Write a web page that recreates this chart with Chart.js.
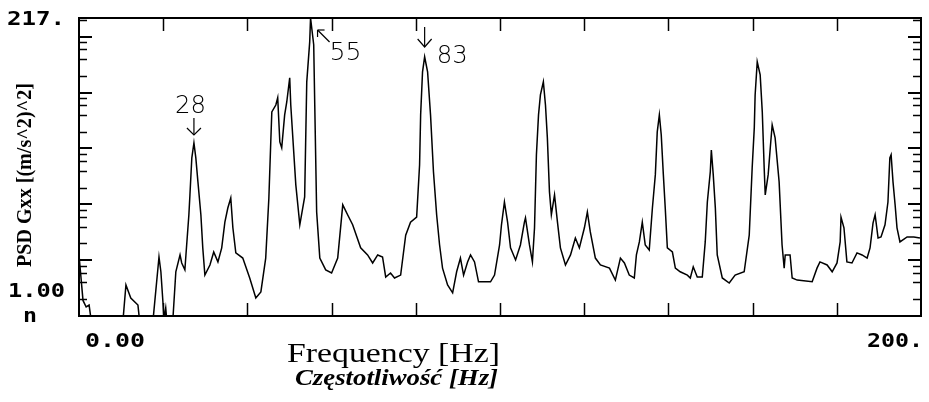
<!DOCTYPE html>
<html>
<head>
<meta charset="utf-8">
<script src="https://cdn.jsdelivr.net/npm/chart.js@4.4.1/dist/chart.umd.min.js"></script>
<style>
html,body{margin:0;padding:0;background:#fff;}
canvas{display:block;}
</style>
</head>
<body>
<canvas id="c" width="929" height="402"></canvas>
<script>
// Frequency [Hz]
const freq = [
  0, 0.95, 1.7, 2.4, 3.3, 10.2, 11.15, 12.3, 14.0, 14.7,
  17.3, 19.0, 19.45, 20.2, 20.6, 21.1, 22.1, 23.0, 24.0, 24.4,
  25.15, 25.4, 26.1, 26.35, 26.8, 27.3, 27.75, 28.25, 28.95, 29.4,
  29.9, 31.1, 32.0, 33.0, 33.9, 34.65, 35.35, 36.05, 36.55, 37.25,
  38.9, 40.55, 42.0, 43.2, 44.35, 45.1, 45.55, 45.8, 46.75, 47.2,
  47.7, 48.15, 48.85, 49.35, 50.05, 50.3, 51.5, 52.45, 53.6, 54.1,
  54.8, 55.0, 55.75, 56.0, 56.45, 57.2, 58.6, 60.0, 61.45, 62.65,
  63.8, 65.0, 66.9, 68.55, 69.75, 70.95, 72.1, 72.85, 74.0, 74.95,
  76.4, 77.6, 78.75, 80.2, 80.9, 81.15, 81.6, 82.1, 82.8, 83.5,
  84.2, 84.95, 85.65, 86.35, 87.55, 88.75, 89.7, 90.6, 91.35, 92.3,
  93.0, 93.95, 94.9, 97.75, 98.7, 99.9, 100.35, 101.05, 101.8, 102.5,
  103.7, 104.85, 105.8, 106.05, 107.0, 107.7, 108.2, 108.65, 109.15, 109.6,
  110.3, 110.8, 111.25, 111.75, 112.2, 112.95, 113.65, 114.35, 115.55, 116.75,
  117.9, 118.85, 120.05, 120.75, 121.45, 122.65, 123.85, 126.0, 127.4, 128.6,
  129.55, 130.7, 131.9, 132.4, 133.1, 133.8, 134.5, 135.45, 136.2, 136.9,
  137.35, 137.85, 138.3, 138.8, 139.25, 139.75, 140.95, 141.65, 142.8, 144.5,
  145.2, 145.9, 146.85, 148.05, 148.75, 149.25, 149.95, 150.2, 150.65, 151.15,
  151.6, 152.8, 154.45, 155.85, 158.0, 159.2, 159.9, 160.4, 160.6, 161.1,
  161.8, 162.3, 162.75, 163.0, 163.7, 164.2, 164.65, 165.35, 166.3, 167.0,
  167.5, 167.75, 168.9, 169.4, 170.6, 174.15, 175.3, 176.0, 177.7, 178.9,
  180.05, 180.8, 181.0, 181.7, 182.4, 183.6, 184.8, 186.0, 187.2, 187.9,
  188.6, 189.1, 189.8, 190.5, 191.45, 192.15, 192.6, 192.9, 193.35, 193.85,
  194.3, 195.0, 196.7, 198.3, 199.75
];
// PSD Gxx [(m/s^2)^2]
const psd = [
  0.0124, 0.0019, 0.00145, 0.00157, 0.0005, 0.0005, 0.0036, 0.0021, 0.00157, 0.0005,
  0.0005, 0.0114, 0.0062, 0.0009, 0.00139, 0.0005, 0.0005, 0.0062, 0.0124, 0.0089,
  0.0067, 0.0124, 0.065, 0.147, 0.68, 1.26, 0.68, 0.252, 0.065, 0.0166,
  0.0054, 0.0082, 0.014, 0.0093, 0.0166, 0.048, 0.086, 0.13, 0.038, 0.0135,
  0.0109, 0.0048, 0.0021, 0.0027, 0.0109, 0.13, 1.31, 4.5, 6.0, 8.1,
  1.31, 1.03, 4.0, 6.8, 18.4, 6.0, 0.223, 0.043, 0.136, 15.6,
  81, 217, 72, 6.0, 0.073, 0.0109, 0.0067, 0.0059, 0.0109, 0.098,
  0.065, 0.043, 0.0166, 0.0124, 0.0089, 0.0124, 0.0114, 0.005, 0.0059, 0.0048,
  0.0054, 0.028, 0.048, 0.059, 0.51, 4.0, 23.6, 43.8, 23.6, 4.0,
  0.38, 0.065, 0.0187, 0.0072, 0.0036, 0.0026, 0.0062, 0.0109, 0.0054, 0.0093,
  0.0124, 0.0093, 0.0041, 0.0041, 0.0054, 0.0187, 0.043, 0.11, 0.048, 0.0166,
  0.0101, 0.0187, 0.048, 0.057, 0.0187, 0.0093, 0.038, 0.77, 4.0, 9.1,
  15.6, 6.0, 1.55, 0.167, 0.065, 0.147, 0.048, 0.0166, 0.0082, 0.0124,
  0.025, 0.0166, 0.038, 0.073, 0.032, 0.0109, 0.0082, 0.0072, 0.0044, 0.0109,
  0.0089, 0.0054, 0.0048, 0.0124, 0.0212, 0.048, 0.0187, 0.0152, 0.086, 0.34,
  1.98, 4.0, 1.75, 0.34, 0.086, 0.0166, 0.014, 0.0072, 0.0062, 0.0054,
  0.0048, 0.0076, 0.005, 0.005, 0.0212, 0.11, 0.38, 0.94, 0.34, 0.086,
  0.0124, 0.0048, 0.0039, 0.0054, 0.0062, 0.028, 0.45, 2.34, 9.1, 35.6,
  20.8, 4.5, 0.45, 0.147, 0.34, 1.03, 2.65, 1.55, 0.252, 0.0187,
  0.0072, 0.0124, 0.0124, 0.0048, 0.0044, 0.0041, 0.0072, 0.0093, 0.0082, 0.0062,
  0.0089, 0.0212, 0.059, 0.038, 0.0093, 0.0089, 0.0135, 0.0124, 0.0109, 0.0166,
  0.046, 0.065, 0.025, 0.026, 0.043, 0.11, 0.68, 0.77, 0.252, 0.098,
  0.038, 0.0212, 0.026, 0.026, 0.025
];

// Axes
const xMin = 0, xMax = 200;
const yMin = 0.001, yMax = 217;
const xTickValues = [20, 40, 60, 80, 100, 120, 140, 160, 180];
const yMajorTicks = [0.01, 0.1, 1, 10, 100];
const yMinorTicks = [0.002, 0.004, 0.006, 0.008, 0.02, 0.04, 0.06, 0.08, 0.2, 0.4, 0.6, 0.8,
                     2, 4, 6, 8, 20, 40, 60, 80, 200];
const yTopLabel = '217.';
const yBottomLabel = ['1.00', 'n'];
const xLeftLabel = '0.00';
const xRightLabel = '200.';
const xTitle = 'Frequency [Hz]';
const xSubTitle = 'Częstotliwość [Hz]';
const yTitle = 'PSD Gxx [(m/s^2)^2]';
// Peak annotations
const peakLabels = ['28', '55', '83'];
const peakFreqs = [27.3, 55.0, 82.1];

function fitText(ctx, str, font, left, baseline, width) {
  ctx.font = font;
  ctx.textAlign = 'left';
  ctx.textBaseline = 'alphabetic';
  const w = ctx.measureText(str).width;
  ctx.save();
  ctx.translate(left, baseline);
  ctx.scale(width / w, 1);
  ctx.fillText(str, 0, 0);
  ctx.restore();
}
function seg(ctx, x1, y1, x2, y2) {
  ctx.beginPath(); ctx.moveTo(x1, y1); ctx.lineTo(x2, y2); ctx.stroke();
}

const overlay = {
  id: 'overlay',
  afterDraw(chart) {
    const ctx = chart.ctx;
    const a = chart.chartArea;
    const xs = chart.scales.x, ys = chart.scales.y;
    ctx.save();
    ctx.strokeStyle = '#000';
    ctx.fillStyle = '#000';
    // frame
    ctx.lineWidth = 2;
    ctx.strokeRect(a.left, a.top, a.right - a.left, a.bottom - a.top);
    // x ticks (inward, top and bottom)
    ctx.lineWidth = 1.5;
    xTickValues.forEach(v => {
      const px = Math.round(xs.getPixelForValue(v)) + 0.5;
      seg(ctx, px, a.bottom, px, a.bottom - 13);
      seg(ctx, px, a.top, px, a.top + 13);
    });
    // y ticks (inward, left and right)
    ctx.lineWidth = 2;
    yMajorTicks.forEach(v => {
      const py = Math.round(ys.getPixelForValue(v));
      seg(ctx, a.left, py, a.left + 13, py);
      seg(ctx, a.right, py, a.right - 13, py);
    });
    ctx.lineWidth = 1.5;
    yMinorTicks.forEach(v => {
      const py = Math.round(ys.getPixelForValue(v)) + 0.5;
      seg(ctx, a.left, py, a.left + 8, py);
      seg(ctx, a.right, py, a.right - 8, py);
    });
    // tick labels
    const mono = "bold 20px 'DejaVu Sans Mono'";
    fitText(ctx, yTopLabel, mono, 7, 25, 58);
    fitText(ctx, yBottomLabel[0], mono, 8, 297, 57);
    fitText(ctx, yBottomLabel[1], mono, 23, 322, 14);
    fitText(ctx, xLeftLabel, mono, 85, 347, 60);
    fitText(ctx, xRightLabel, mono, 867, 347, 56);
    // axis titles
    fitText(ctx, xTitle, "28px 'Liberation Serif'", 287, 362, 213);
    fitText(ctx, xSubTitle, "italic bold 23px 'Liberation Serif'", 295, 385, 203);
    ctx.save();
    ctx.font = "bold 19px 'Liberation Serif'";
    const tw = ctx.measureText(yTitle).width;
    ctx.translate(26, 175);
    ctx.rotate(-Math.PI / 2);
    ctx.scale(184 / tw, 1.1);
    ctx.textAlign = 'center';
    ctx.textBaseline = 'middle';
    ctx.fillText(yTitle, 0, 0);
    ctx.restore();
    // peak annotations
    const af = "200 24px 'DejaVu Sans'";
    ctx.lineWidth = 1.2;
    // 28
    let px = xs.getPixelForValue(peakFreqs[0]);
    fitText(ctx, peakLabels[0], af, px - 19, 113, 31);
    seg(ctx, px, 118, px, 135);
    ctx.beginPath(); ctx.moveTo(px - 7, 128); ctx.lineTo(px, 135); ctx.lineTo(px + 7, 128); ctx.stroke();
    // 55
    px = xs.getPixelForValue(peakFreqs[1]);
    fitText(ctx, peakLabels[1], af, px + 19, 60, 32);
    seg(ctx, px + 7, 30, px + 19, 42);
    seg(ctx, px + 7, 30, px + 7, 37);
    seg(ctx, px + 7, 30, px + 14, 30);
    // 83
    px = xs.getPixelForValue(peakFreqs[2]);
    fitText(ctx, peakLabels[2], af, px + 12, 63, 31);
    seg(ctx, px, 27, px, 47);
    ctx.beginPath(); ctx.moveTo(px - 7, 39); ctx.lineTo(px, 47); ctx.lineTo(px + 7, 39); ctx.stroke();
    ctx.restore();
  }
};

new Chart(document.getElementById('c'), {
  type: 'line',
  data: {
    datasets: [{
      data: freq.map((f, i) => ({ x: f, y: psd[i] })),
      borderColor: '#000',
      borderWidth: 1.5,
      pointRadius: 0,
      tension: 0,
      fill: false
    }]
  },
  options: {
    responsive: false,
    animation: false,
    devicePixelRatio: 1,
    layout: { padding: { left: 79, top: 18, right: 8, bottom: 86 } },
    plugins: { legend: { display: false }, tooltip: { enabled: false } },
    scales: {
      x: { type: 'linear', min: xMin, max: xMax, display: false, bounds: 'data' },
      y: { type: 'logarithmic', min: yMin, max: yMax, display: false, bounds: 'data' }
    }
  },
  plugins: [overlay]
});
</script>
</body>
</html>
